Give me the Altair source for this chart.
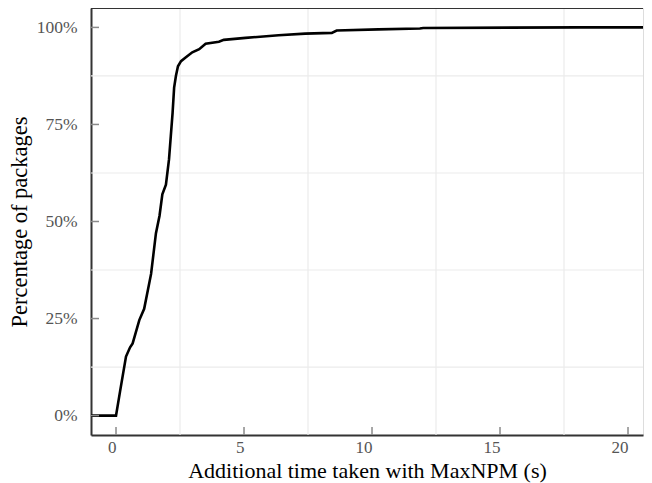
import altair as alt
import pandas as pd

# ECDF curve (x in seconds, y in %)
xs = [-0.98, 0.0, 0.16, 0.39, 0.55, 0.65, 0.91, 1.10, 1.37, 1.56, 1.70, 1.81, 1.95,
      2.07, 2.14, 2.21, 2.27, 2.34, 2.42, 2.54, 2.73, 2.98, 3.25, 3.50, 4.02, 4.21,
      5.06, 6.35, 7.39, 8.43, 8.62, 10.25, 11.87, 12.0, 18.1, 21.0]
ys = [0, 0, 6.3, 15.2, 17.6, 18.6, 24.6, 27.5, 36.5, 47.0, 51.5, 57.0, 59.5,
      66.0, 72.0, 78.0, 84.5, 87.5, 90.0, 91.3, 92.3, 93.6, 94.4, 95.8, 96.3, 96.8,
      97.3, 98.0, 98.4, 98.6, 99.2, 99.5, 99.7, 99.85, 100, 100]

x_ticks = [0, 5, 10, 15, 20]
y_ticks = [0, 0.25, 0.5, 0.75, 1.0]
x_grid = [2.5, 7.5, 12.5, 17.5]
y_grid = [0.125, 0.375, 0.625, 0.875]

W, H = 552, 427
FONT = "Liberation Serif"

curve = pd.DataFrame({"x": xs, "y": [v / 100 for v in ys]})

xscale = alt.Scale(domain=[-0.977, -0.977 + W / 25.6], nice=False, zero=False)
yscale = alt.Scale(domain=[-0.05, 1.05], nice=False, zero=False)

xaxis = alt.Axis(values=x_ticks, grid=False, ticks=False, tickSize=0,
                 labelAlign="right", labelBaseline="top", labelPadding=4,
                 labelFont=FONT, labelFontSize=17, labelColor="#555555",
                 title="Additional time taken with MaxNPM (s)",
                 titleFont=FONT, titleFontSize=22, titleFontWeight="normal",
                 titleColor="#000000", titleY=42, titleBaseline="alphabetic",
                 domainColor="#333333", domainWidth=2)
yaxis = alt.Axis(values=y_ticks, format=".0%", grid=False, ticks=False, tickSize=0,
                 labelAlign="right", labelBaseline="middle", labelPadding=14,
                 labelFont=FONT, labelFontSize=17.5, labelColor="#555555",
                 title="Percentage of packages",
                 titleFont=FONT, titleFontSize=22.5, titleFontWeight="normal",
                 titleColor="#000000", titleX=-65, titleY=H / 2,
                 titleBaseline="alphabetic", titleAngle=-90, titleAlign="center",
                 domainColor="#333333", domainWidth=2)

X = alt.X("x:Q", scale=xscale, axis=xaxis)
Y = alt.Y("y:Q", scale=yscale, axis=yaxis)

vgrid = alt.Chart(pd.DataFrame({"x": x_grid})).mark_rule(
    color="#ebebeb", strokeWidth=1.2).encode(x=X)
hgrid = alt.Chart(pd.DataFrame({"y": y_grid})).mark_rule(
    color="#ebebeb", strokeWidth=1.2).encode(y=Y)

line = alt.Chart(curve).mark_line(color="#000000", strokeWidth=2.6, clip=True).encode(
    x=X, y=Y, order=alt.Order("x:Q"))

xt = alt.Chart(pd.DataFrame({"x": x_ticks})).mark_rule(
    color="#8a8a8a", strokeWidth=1.5).encode(x=X, y=alt.value(H), y2=alt.value(H - 8))
yt = alt.Chart(pd.DataFrame({"y": y_ticks})).mark_rule(
    color="#8a8a8a", strokeWidth=1.5).encode(y=Y, x=alt.value(0), x2=alt.value(8))

top = alt.Chart(pd.DataFrame({"a": [0]})).mark_rule(
    color="#333333", strokeWidth=2).encode(x=alt.value(0), x2=alt.value(W), y=alt.value(0))

chart = alt.layer(vgrid, hgrid, line, xt, yt, top).properties(
    width=W, height=H,
    autosize=alt.AutoSizeParams(type="none"),
    padding={"left": 83, "top": 0, "right": 1, "bottom": 48},
).configure_view(stroke=None).configure(background="white")

chart.save("out.html", embed_options={"renderer": "svg", "actions": False})
